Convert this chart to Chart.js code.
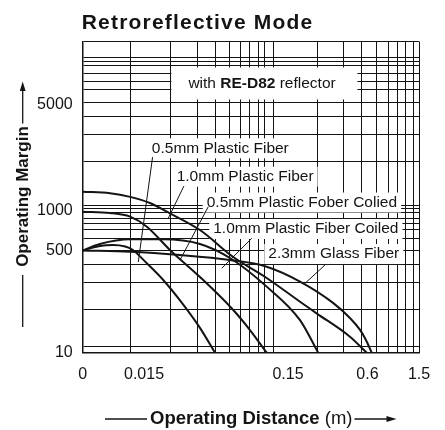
<!DOCTYPE html>
<html>
<head>
<meta charset="utf-8">
<script src="https://cdn.jsdelivr.net/npm/chart.js@4.4.1/dist/chart.umd.min.js"></script>
<style>
  html, body { margin: 0; padding: 0; background: #fff; }
  #wrap { width: 445px; height: 430px; }
</style>
</head>
<body>
<div id="wrap"><canvas id="retroChart"></canvas></div>
<script>
// operating distance (m) vs operating margin
const fiber05X = [0, 0.0042, 0.0074, 0.0104, 0.0121, 0.0157, 0.0204, 0.0275, 0.0367, 0.0467];
const fiber05Y = [504, 545, 554, 540, 513, 312, 164, 68, 26, 10];

const fiber10X = [0, 0.0067, 0.0116, 0.0165, 0.0227, 0.0367, 0.0625, 0.1067, 0.185, 0.247, 0.442, 0.592];
const fiber10Y = [1330, 1300, 1230, 1120, 953, 716, 397, 177, 71, 45.5, 18.5, 10];

const fiber05CoiledX = [0, 0.0067, 0.0116, 0.0157, 0.0227, 0.0367, 0.0625, 0.0817, 0.1067];
const fiber05CoiledY = [980, 959, 900, 758, 509, 184, 51.7, 23.9, 10];

const fiber10CoiledX = [0, 0.0042, 0.0116, 0.0203, 0.0367, 0.0593, 0.1067, 0.185, 0.254];
const fiber10CoiledY = [504, 564, 611, 611, 564, 382, 127, 35, 10];

const glass23X = [0, 0.0116, 0.0267, 0.0593, 0.1067, 0.185, 0.329, 0.442, 0.527, 0.584, 0.647];
const glass23Y = [504, 487, 429, 354, 273, 154, 68, 38, 24, 16.3, 10];

const fiberNames = ['0.5mm Plastic Fiber', '1.0mm Plastic Fiber', '0.5mm Plastic Fober Colied',
                    '1.0mm Plastic Fiber Coiled', '2.3mm Glass Fiber'];

// tick labels
const xLabelTicks = [0, 0.015, 0.15, 0.6, 1.5];
const xLabelText = ['0', '0.015', '0.15', '0.6', '1.5'];
const yLabelTicks = [10, 500, 1000, 5000];
const yLabelText = ['10', '500', '1000', '5000'];

// graph paper lines
const xGridTicks = [0.0116, 0.0230, 0.0352, 0.0467, 0.0587, 0.0704, 0.0817, 0.0933, 0.1038, 0.1186,
                    0.252, 0.398, 0.545, 0.707, 0.869, 1.027, 1.19, 1.356, 1.5];
const yGridTicks = [10, 12.6, 53, 148, 300, 500, 621, 725, 803, 875, 970, 1034, 1087, 2090, 3170, 4140,
                    5110, 5870, 6440, 7070, 7720, 8030, 8340, 10000];

// the printed axes are not evenly spaced, so each axis is calibrated on its labels
const axisWarp = {
  x: { values: [0, 0.015, 0.15, 0.6, 1.5], fracs: [0, 0.1823, 0.6104, 0.8468, 1] },
  y: { values: [10, 500, 1000, 5000, 10000], fracs: [0, 0.3268, 0.4569, 0.7976, 1] }
};

function warpFrac(w, v) {
  const V = w.values, F = w.fracs, n = V.length - 1;
  let i = 0;
  while (i < n - 1 && v > V[i + 1]) i++;
  const a = V[i], b = V[i + 1];
  const t = (a > 0 && v > 0) ? Math.log(v / a) / Math.log(b / a) : (v - a) / (b - a);
  return F[i] + t * (F[i + 1] - F[i]);
}
function unwarpFrac(w, f) {
  const V = w.values, F = w.fracs, n = V.length - 1;
  let i = 0;
  while (i < n - 1 && f > F[i + 1]) i++;
  const t = (f - F[i]) / (F[i + 1] - F[i]);
  const a = V[i], b = V[i + 1];
  return a > 0 ? a * Math.pow(b / a, t) : a + t * (b - a);
}

class WarpScale extends Chart.LinearScale {
  getPixelForValue(value) {
    return this.getPixelForDecimal(warpFrac(axisWarp[this.id], value));
  }
  getValueForPixel(pixel) {
    return unwarpFrac(axisWarp[this.id], this.getDecimalForPixel(pixel));
  }
}
WarpScale.id = 'warp';
WarpScale.defaults = Chart.LinearScale.defaults;
Chart.register(WarpScale);

const FONT = '"Liberation Sans", Arial, Helvetica, sans-serif';
const INK = '#141414';
Chart.defaults.font.family = FONT;
Chart.defaults.color = INK;

function series(xs, ys) {
  return xs.map((x, i) => ({ x: x, y: ys[i] }));
}
function mergedTicks(a, b) {
  return [...new Set([...a, ...b])].sort((p, q) => p - q).map(v => ({ value: v }));
}

// label boxes + leader lines, positions given in axis units
const fiberNotes = [
  { text: fiberNames[0], at: [0.0170, 2570], from: [0.0172, 2250], to: [0.0136, 327] },
  { text: fiberNames[1], at: [0.0253, 1670], from: [0.0284, 1450], to: [0.0221, 875] },
  { text: fiberNames[2], at: [0.0409, 1129], from: [0.0419, 1059], to: [0.0267, 354] },
  { text: fiberNames[3], at: [0.0454, 729], from: [0.0840, 621], to: [0.0520, 257] },
  { text: fiberNames[4], at: [0.1095, 445], from: [0.286, 292], to: [0.2018, 144] }
];
const reflectorNote = { at: [0.0305, 6300] };

const decorPlugin = {
  id: 'datasheetDecor',
  beforeDatasetsDraw(chart) {
    const ctx = chart.ctx, xs = chart.scales.x, ys = chart.scales.y;
    ctx.save();
    ctx.fillStyle = '#fff';
    ctx.font = '15.5px ' + FONT;
    fiberNotes.forEach(n => {
      const w = ctx.measureText(n.text).width;
      const px = xs.getPixelForValue(n.at[0]), py = ys.getPixelForValue(n.at[1]);
      ctx.fillRect(px - 4, py - 10, w + 8, 20);
    });
    const rx = xs.getPixelForValue(reflectorNote.at[0]), ry = ys.getPixelForValue(reflectorNote.at[1]);
    ctx.fillRect(rx - 17, ry - 16, 186, 32);
    ctx.restore();
  },
  afterDatasetsDraw(chart) {
    const ctx = chart.ctx, xs = chart.scales.x, ys = chart.scales.y;
    ctx.save();
    ctx.strokeStyle = INK;
    ctx.lineWidth = 1;
    ctx.fillStyle = INK;
    ctx.textBaseline = 'middle';
    ctx.textAlign = 'left';
    ctx.font = '15.5px ' + FONT;
    fiberNotes.forEach(n => {
      ctx.beginPath();
      ctx.moveTo(xs.getPixelForValue(n.from[0]), ys.getPixelForValue(n.from[1]));
      ctx.lineTo(xs.getPixelForValue(n.to[0]), ys.getPixelForValue(n.to[1]));
      ctx.stroke();
      ctx.fillText(n.text, xs.getPixelForValue(n.at[0]), ys.getPixelForValue(n.at[1]));
    });
    // "with RE-D82 reflector"
    let rx = xs.getPixelForValue(reflectorNote.at[0]);
    const ry = ys.getPixelForValue(reflectorNote.at[1]);
    const parts = [['with ', ''], ['RE-D82', 'bold '], [' reflector', '']];
    parts.forEach(p => {
      ctx.font = p[1] + '15.5px ' + FONT;
      ctx.fillText(p[0], rx, ry);
      rx += ctx.measureText(p[0]).width;
    });
    ctx.restore();
  },
  afterDraw(chart) {
    const ctx = chart.ctx, area = chart.chartArea;
    ctx.save();
    ctx.fillStyle = INK;
    ctx.strokeStyle = INK;
    ctx.lineWidth = 1.3;
    // title
    ctx.font = 'bold 21px ' + FONT;
    ctx.textBaseline = 'middle';
    ctx.textAlign = 'left';
    if ('letterSpacing' in ctx) ctx.letterSpacing = '1.2px';
    ctx.fillText('Retroreflective Mode', area.left - 1, 23);
    if ('letterSpacing' in ctx) ctx.letterSpacing = '0px';

    // y axis title with arrow
    ctx.save();
    ctx.translate(23, 196.5);
    ctx.rotate(-Math.PI / 2);
    ctx.font = 'bold 17px ' + FONT;
    ctx.textAlign = 'center';
    ctx.fillText('Operating Margin', 0, 0);
    ctx.restore();
    ctx.beginPath();
    ctx.moveTo(22.7, 123.5); ctx.lineTo(22.7, 88);
    ctx.moveTo(22.7, 275); ctx.lineTo(22.7, 327);
    ctx.stroke();
    ctx.beginPath();
    ctx.moveTo(22.7, 81.5); ctx.lineTo(19.8, 91); ctx.lineTo(25.6, 91); ctx.closePath();
    ctx.fill();

    // x axis title with arrow
    const ty = 419;
    ctx.beginPath();
    ctx.moveTo(105, ty); ctx.lineTo(147, ty);
    ctx.stroke();
    let tx = 150;
    ctx.font = 'bold 18.5px ' + FONT;
    ctx.fillText('Operating Distance', tx, ty);
    tx += ctx.measureText('Operating Distance').width;
    ctx.font = '18.5px ' + FONT;
    ctx.fillText(' (m)', tx, ty);
    tx += ctx.measureText(' (m)').width + 2;
    ctx.beginPath();
    ctx.moveTo(tx, ty); ctx.lineTo(tx + 34, ty);
    ctx.stroke();
    ctx.beginPath();
    ctx.moveTo(tx + 42, ty); ctx.lineTo(tx + 32, ty - 3); ctx.lineTo(tx + 32, ty + 3); ctx.closePath();
    ctx.fill();
    ctx.restore();
  }
};

const curveStyle = {
  borderColor: INK,
  borderWidth: 2,
  pointRadius: 0,
  fill: false,
  cubicInterpolationMode: 'monotone'
};

const retroChart = new Chart('retroChart', {
  type: 'line',
  data: {
    datasets: [
      { label: fiberNames[0], data: series(fiber05X, fiber05Y), ...curveStyle },
      { label: fiberNames[1], data: series(fiber10X, fiber10Y), ...curveStyle },
      { label: fiberNames[2], data: series(fiber05CoiledX, fiber05CoiledY), ...curveStyle },
      { label: fiberNames[3], data: series(fiber10CoiledX, fiber10CoiledY), ...curveStyle },
      { label: fiberNames[4], data: series(glass23X, glass23Y), ...curveStyle }
    ]
  },
  options: {
    responsive: true,
    maintainAspectRatio: false,
    animation: false,
    devicePixelRatio: 1,
    layout: { padding: { top: 41.5, right: 26, bottom: 0, left: 0 } },
    plugins: {
      legend: { display: false },
      tooltip: { enabled: false },
      title: { display: false }
    },
    scales: {
      x: {
        type: 'warp',
        min: 0,
        max: 1.5,
        afterBuildTicks: s => { s.ticks = mergedTicks(xLabelTicks, xGridTicks); },
        afterFit: s => { s.height = 77.3; },
        grid: {
          drawTicks: false,
          lineWidth: 1,
          color: c => (c.tick && xGridTicks.includes(c.tick.value)) ? INK : 'rgba(0,0,0,0)'
        },
        border: { display: true, color: INK, width: 1.5 },
        ticks: {
          autoSkip: false,
          maxRotation: 0,
          padding: 12,
          font: { size: 16 },
          color: INK,
          callback: v => { const i = xLabelTicks.indexOf(v); return i >= 0 ? xLabelText[i] : ''; }
        }
      },
      y: {
        type: 'warp',
        min: 10,
        max: 10000,
        afterBuildTicks: s => { s.ticks = mergedTicks(yLabelTicks, yGridTicks); },
        afterFit: s => { s.width = 82.7; },
        grid: {
          drawTicks: false,
          lineWidth: 1,
          color: c => (c.tick && yGridTicks.includes(c.tick.value)) ? INK : 'rgba(0,0,0,0)'
        },
        border: { display: true, color: INK, width: 1.5 },
        ticks: {
          autoSkip: false,
          padding: 10,
          font: { size: 16 },
          color: INK,
          callback: v => { const i = yLabelTicks.indexOf(v); return i >= 0 ? yLabelText[i] : ''; }
        }
      }
    }
  },
  plugins: [decorPlugin]
});
</script>
</body>
</html>
